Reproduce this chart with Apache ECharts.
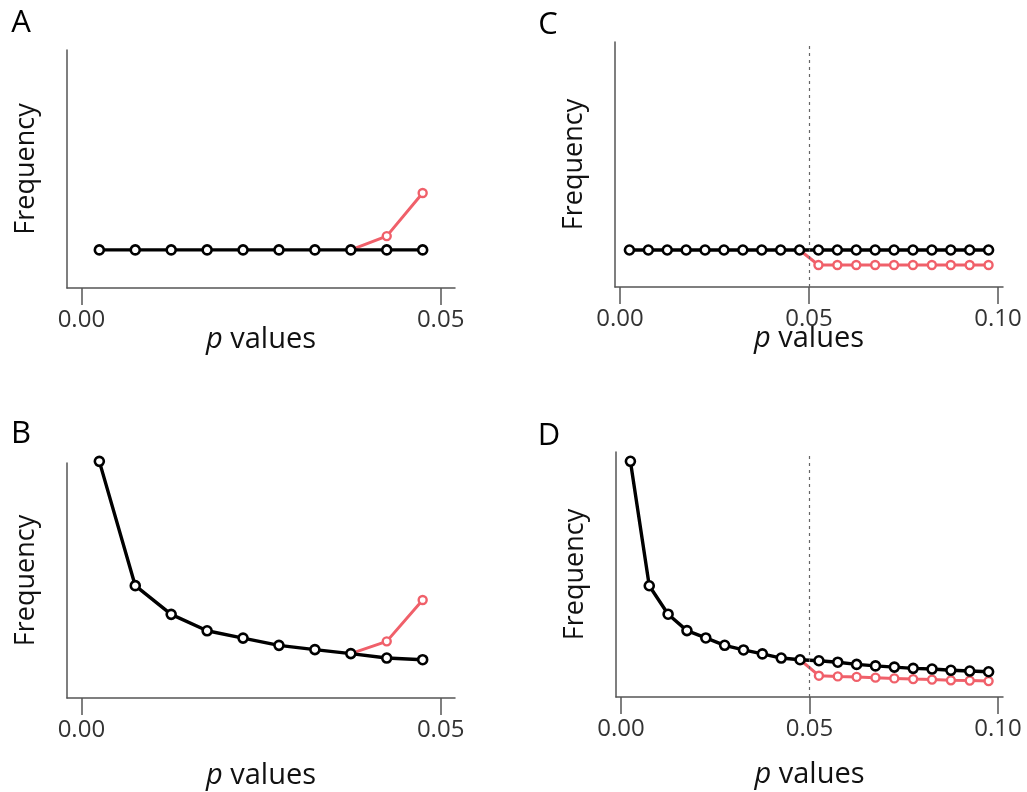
<!DOCTYPE html>
<html>
<head>
<meta charset="utf-8">
<script src="https://cdn.jsdelivr.net/npm/echarts@6/dist/echarts.min.js"></script>
<style>html,body{margin:0;padding:0;background:#fff}#c{width:1027px;height:792px}</style>
</head>
<body>
<div id="c"></div>
<script>
// bin centres (p values)
const x10 = [0.0025, 0.0075, 0.0125, 0.0175, 0.0225, 0.0275, 0.0325, 0.0375, 0.0425, 0.0475];
const x20 = [0.0025, 0.0075, 0.0125, 0.0175, 0.0225, 0.0275, 0.0325, 0.0375, 0.0425, 0.0475,
             0.0525, 0.0575, 0.0625, 0.0675, 0.0725, 0.0775, 0.0825, 0.0875, 0.0925, 0.0975];
// relative frequency (arbitrary units, axis top = 100)
const aBlack = [16, 16, 16, 16, 16, 16, 16, 16, 16, 16];
const aRed   = [null, null, null, null, null, null, null, 16, 21.8, 39.9];
const bBlack = [100.7, 47.8, 35.6, 28.6, 25.5, 22.4, 20.6, 18.9, 17.0, 16.3];
const bRed   = [null, null, null, null, null, null, null, 18.9, 24.1, 41.7];
const cBlack = [15.1, 15.1, 15.1, 15.1, 15.1, 15.1, 15.1, 15.1, 15.1, 15.1,
                15.1, 15.1, 15.1, 15.1, 15.1, 15.1, 15.1, 15.1, 15.1, 15.1];
const cRed   = [null, null, null, null, null, null, null, null, null, 15.1,
                9.0, 9.0, 9.0, 9.0, 9.0, 9.0, 9.0, 9.0, 9.0, 9.0];
const dBlack = [96.2, 45.4, 33.8, 27.1, 24.1, 21.1, 19.2, 17.6, 15.9, 15.2,
                14.8, 14.2, 13.3, 12.7, 12.2, 11.7, 11.4, 10.9, 10.6, 10.3];
const dRed   = [null, null, null, null, null, null, null, null, null, 15.2,
                8.7, 8.4, 8.2, 7.9, 7.6, 7.3, 7.1, 6.8, 6.7, 6.5];
const ticks05 = [0, 0.05];
const ticks10 = [0, 0.05, 0.10];
const threshold = 0.05;
const panelLabels = ['A', 'B', 'C', 'D'];

const FONT = '"Open Sans", "Liberation Sans", sans-serif';
const AXC = '#555';
const RED = '#F0606A';

const grids = [
  {left: 67, top: 50, width: 388, height: 238},
  {left: 67, top: 463, width: 388, height: 235},
  {left: 615, top: 42, width: 388, height: 245},
  {left: 616, top: 452, width: 387, height: 245}
];
const xr = [
  [-0.002, 0.052, ticks05, 37],
  [-0.002, 0.052, ticks05, 63],
  [-0.00132, 0.10132, ticks10, 37],
  [-0.00132, 0.10132, ticks10, 63]
];

function mkX(i) {
  return {
    gridIndex: i, type: 'value', min: xr[i][0], max: xr[i][1],
    axisLine: {show: true, onZero: false, lineStyle: {color: AXC, width: 1.5}},
    axisTick: {show: true, customValues: xr[i][2], length: 17, lineStyle: {color: AXC, width: 1.5}},
    axisLabel: {show: true, customValues: xr[i][2], formatter: v => v.toFixed(2), margin: 20,
      fontSize: 24, color: '#333', fontFamily: FONT},
    splitLine: {show: false},
    name: '{it|p} values', nameLocation: 'middle', nameGap: xr[i][3], nameMoveOverlap: false,
    nameTextStyle: {fontSize: 29, color: '#111', fontFamily: FONT,
      rich: {it: {fontSize: 29, fontStyle: 'italic', color: '#111', fontFamily: FONT}}}
  };
}
function mkY(i) {
  return {
    gridIndex: i, type: 'value', min: 0, max: 100,
    axisLine: {show: true, onZero: false, lineStyle: {color: AXC, width: 1.5}},
    axisTick: {show: false}, axisLabel: {show: false}, splitLine: {show: false},
    name: 'Frequency', nameLocation: 'middle', nameGap: 27, nameRotate: 90,
    nameTextStyle: {fontSize: 27, color: '#111', fontFamily: FONT}
  };
}
function pts(xs, ys, firstNoSymbol) {
  let first = true;
  return xs.map((x, k) => {
    if (ys[k] == null) return [x, null];
    if (firstNoSymbol && first) { first = false; return {value: [x, ys[k]], symbol: 'none'}; }
    return [x, ys[k]];
  });
}
function line(i, xs, ys, color, isRed, width) {
  return {
    type: 'line', xAxisIndex: i, yAxisIndex: i, data: pts(xs, ys, isRed),
    symbol: 'circle', symbolSize: isRed ? 8 : 9, clip: false, connectNulls: false,
    lineStyle: {color: color, width: width},
    itemStyle: {color: '#fff', borderColor: color, borderWidth: isRed ? 2.4 : 2.6},
    emphasis: {disabled: true}, animation: false, z: isRed ? 2 : 3
  };
}
function vline(i) {
  return {
    type: 'line', xAxisIndex: i, yAxisIndex: i, data: [], animation: false,
    markLine: {silent: true, symbol: 'none', label: {show: false},
      lineStyle: {color: '#666', type: [3, 4], width: 1.2},
      data: [{xAxis: threshold}]}
  };
}

const series = [
  line(0, x10, aRed, RED, true, 3), line(0, x10, aBlack, '#000', false, 3.4),
  line(1, x10, bRed, RED, true, 3), line(1, x10, bBlack, '#000', false, 3.4),
  vline(2),
  line(2, x20, cRed, RED, true, 3), line(2, x20, cBlack, '#000', false, 3.4),
  vline(3),
  line(3, x20, dRed, RED, true, 3), line(3, x20, dBlack, '#000', false, 3.4)
];

const labelPos = [[21, 23], [21, 434], [548, 25], [549, 436]];
const graphic = panelLabels.map((t, k) => ({
  type: 'text', x: labelPos[k][0], y: labelPos[k][1],
  style: {text: t, fontSize: 31, fontFamily: FONT, fill: '#000', textAlign: 'center', textVerticalAlign: 'middle'}
}));

const chart = echarts.init(document.getElementById('c'), null, {renderer: 'canvas'});
chart.setOption({
  backgroundColor: '#fff',
  animation: false,
  grid: grids,
  xAxis: [0, 1, 2, 3].map(mkX),
  yAxis: [0, 1, 2, 3].map(mkY),
  series: series,
  graphic: graphic
});
</script>
</body>
</html>
